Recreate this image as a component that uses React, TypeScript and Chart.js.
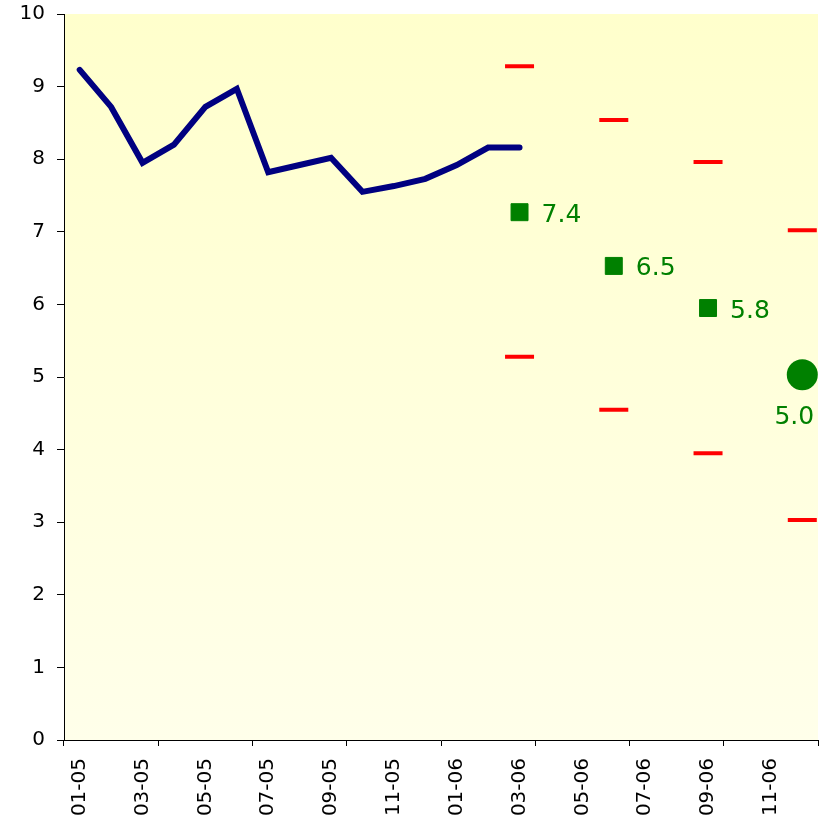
import React, { useEffect, useRef } from "react";
import { Chart, registerables } from "chart.js";

Chart.register(...registerables);

const months: string[] = [
  "01-05", "02-05", "03-05", "04-05", "05-05", "06-05", "07-05", "08-05", "09-05", "10-05", "11-05", "12-05",
  "01-06", "02-06", "03-06", "04-06", "05-06", "06-06", "07-06", "08-06", "09-06", "10-06", "11-06", "12-06",
];

const actual: (number | null)[] = [
  9.23, 8.72, 7.95, 8.2, 8.72, 8.97, 7.82, 7.92, 8.02, 7.55, 7.63, 7.73, 7.92, 8.16, 8.16,
  null, null, null, null, null, null, null, null, null,
];

const forecastSquares: (number | null)[] = [
  null, null, null, null, null, null, null, null, null, null, null, null, null, null, 7.27,
  null, null, 6.53, null, null, 5.95, null, null, null,
];

const targetCircle: (number | null)[] = [
  null, null, null, null, null, null, null, null, null, null, null, null, null, null, null,
  null, null, null, null, null, null, null, null, 5.03,
];

const upperBand: (number | null)[] = [
  null, null, null, null, null, null, null, null, null, null, null, null, null, null, 9.28,
  null, null, 8.54, null, null, 7.96, null, null, 7.02,
];

const lowerBand: (number | null)[] = [
  null, null, null, null, null, null, null, null, null, null, null, null, null, null, 5.28,
  null, null, 4.55, null, null, 3.95, null, null, 3.03,
];

const squareLabels: string[] = ["7.4", "6.5", "5.8"];
const circleLabels: string[] = ["5.0"];

const FONT = "'DejaVu Sans', Verdana, sans-serif";

const bgPlugin = {
  id: "bgGradient",
  beforeDraw(chart: any) {
    const { ctx, chartArea } = chart;
    if (!chartArea) return;
    const g = ctx.createLinearGradient(0, chartArea.top, 0, chartArea.bottom);
    g.addColorStop(0, "#FFFFCC");
    g.addColorStop(1, "#FFFFEA");
    ctx.save();
    ctx.fillStyle = g;
    ctx.fillRect(chartArea.left, chartArea.top, chartArea.right - chartArea.left, chartArea.bottom - chartArea.top);
    ctx.restore();
  },
};

const labelPlugin = {
  id: "pointLabels",
  afterDatasetsDraw(chart: any) {
    const { ctx } = chart;
    ctx.save();
    ctx.fillStyle = "#008000";
    ctx.font = `25px ${FONT}`;
    const sqMeta = chart.getDatasetMeta(1);
    let k = 0;
    sqMeta.data.forEach((el: any, i: number) => {
      if (forecastSquares[i] == null) return;
      ctx.textAlign = "left";
      ctx.textBaseline = "middle";
      ctx.fillText(squareLabels[k++], el.x + 22, el.y + 3);
    });
    const cMeta = chart.getDatasetMeta(2);
    let c = 0;
    cMeta.data.forEach((el: any, i: number) => {
      if (targetCircle[i] == null) return;
      ctx.textAlign = "center";
      ctx.textBaseline = "middle";
      ctx.fillText(circleLabels[c++], el.x - 8, el.y + 43);
    });
    ctx.restore();
  },
};

export default function App() {
  const ref = useRef<HTMLCanvasElement | null>(null);
  useEffect(() => {
    if (!ref.current) return;
    const chart = new Chart(ref.current, {
      type: "line",
      data: {
        labels: months,
        datasets: [
          {
            data: actual,
            borderColor: "#000080",
            borderWidth: 6,
            pointRadius: 0,
            borderCapStyle: "round",
            borderJoinStyle: "miter",
            spanGaps: false,
            order: 5,
          },
          {
            data: forecastSquares,
            showLine: false,
            pointStyle: "rect",
            pointRadius: 12,
            pointBackgroundColor: "#008000",
            pointBorderColor: "#008000",
            pointBorderWidth: 1,
          },
          {
            data: targetCircle,
            showLine: false,
            pointStyle: "circle",
            pointRadius: 15.5,
            pointBackgroundColor: "#008000",
            pointBorderColor: "#008000",
            pointBorderWidth: 0,
          },
          {
            data: upperBand,
            showLine: false,
            pointStyle: "line",
            pointRadius: 14.5,
            pointBorderColor: "#FF0000",
            pointBorderWidth: 4,
          },
          {
            data: lowerBand,
            showLine: false,
            pointStyle: "line",
            pointRadius: 14.5,
            pointBorderColor: "#FF0000",
            pointBorderWidth: 4,
          },
        ],
      },
      options: {
        animation: false,
        responsive: false,
        maintainAspectRatio: false,
        layout: { autoPadding: false, padding: { left: 0, top: 14, right: 7, bottom: 0 } },
        plugins: { legend: { display: false }, tooltip: { enabled: false } },
        scales: {
          x: {
            type: "category",
            offset: true,
            afterFit(scale: any) {
              scale.height = 85;
              scale.paddingLeft = 0;
              scale.paddingRight = 0;
            },
            grid: {
              offset: true,
              drawOnChartArea: false,
              drawTicks: true,
              tickLength: 6,
              tickWidth: 1,
              tickColor: (ctx: any) => {
                if (ctx.type !== "tick") return "#000000";
                return ctx.index % 3 === 0 ? "#000000" : "rgba(0,0,0,0)";
              },
            },
            border: { display: true, color: "#000000", width: 1 },
            ticks: {
              autoSkip: false,
              maxRotation: 90,
              minRotation: 90,
              padding: 12,
              color: "#000000",
              font: { family: FONT, size: 20 },
              callback: (_v: any, i: number) => (i % 2 === 0 ? months[i] : ""),
            },
          },
          y: {
            min: 0,
            max: 10,
            afterFit(scale: any) {
              scale.width = 64;
              scale.paddingTop = 0;
              scale.paddingBottom = 0;
            },
            grid: {
              drawOnChartArea: false,
              drawTicks: true,
              tickLength: 7,
              tickColor: "#000000",
            },
            border: { display: true, color: "#000000", width: 1 },
            ticks: {
              stepSize: 1,
              padding: 12,
              color: "#000000",
              font: { family: FONT, size: 20 },
            },
          },
        },
      },
      plugins: [bgPlugin, labelPlugin],
    });
    return () => chart.destroy();
  }, []);
  return (
    <div style={{ position: "absolute", left: 0, top: 0, width: 825, height: 825 }}>
      <canvas ref={ref} width={825} height={825} style={{ display: "block", width: 825, height: 825 }} />
    </div>
  );
}
